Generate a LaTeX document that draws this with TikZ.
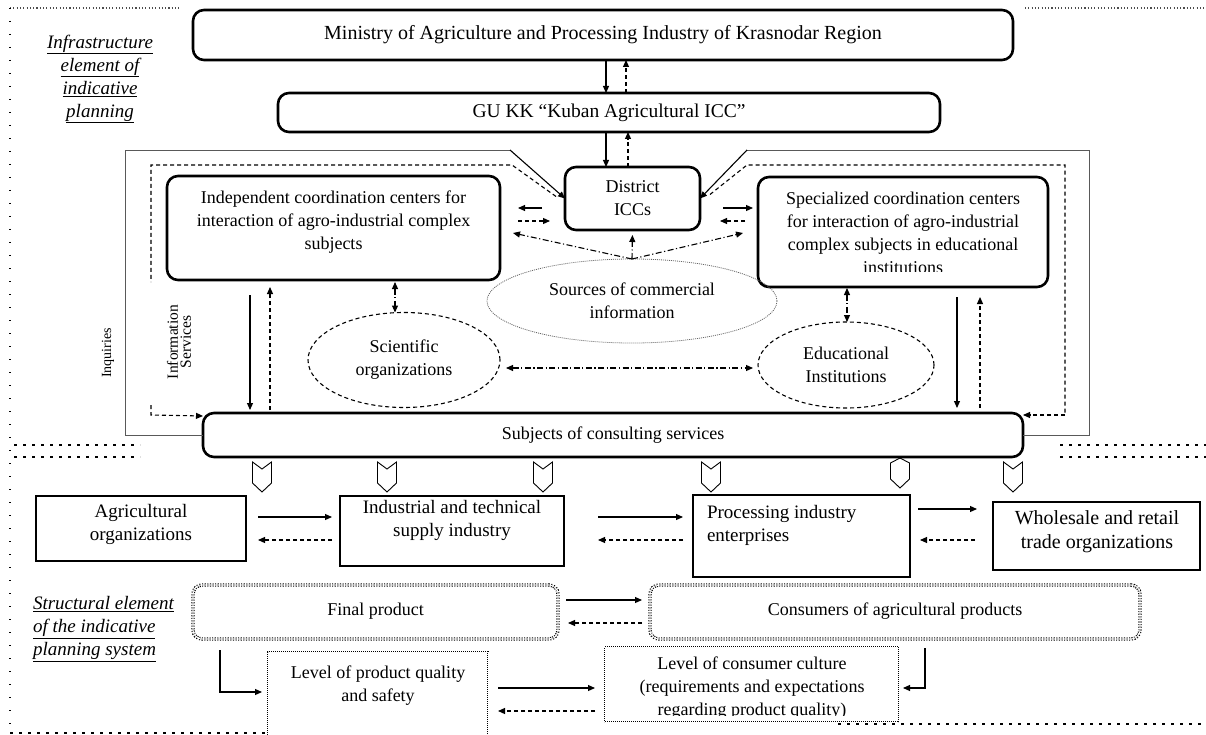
\documentclass[tikz,border=0pt]{standalone}
\usepackage{fontspec}
\setmainfont{Liberation Serif}
\usetikzlibrary{arrows.meta,shapes.geometric,calc}
\newcommand\myfs{\fontsize{18}{23}\selectfont}
\newcommand\myfsb{\fontsize{19}{23}\selectfont}
\begin{document}
\begin{tikzpicture}[x=1pt,y=-1pt,
 every node/.style={inner sep=0pt,outer sep=0pt},
 txt/.style={font=\myfs,align=center},
 txtb/.style={font=\myfsb,align=center},
 bigbox/.style={draw,line width=2.6pt,rounded corners=11pt},
 thinbox/.style={draw,line width=1.1pt},
 dbox/.style={draw,line width=1.1pt,double distance=1.2pt,dash pattern=on 1.1pt off 1.5pt,rounded corners=9pt},
 qbox/.style={draw,line width=0.5pt,double distance=1pt,dash pattern=on 0.9pt off 1.1pt},
 arr/.style={-{Triangle[length=7pt,width=6pt]}},
 arrb/.style={{Triangle[length=7pt,width=6pt]}-{Triangle[length=7pt,width=6pt]}},
 ln/.style={line width=1.1pt},
 dsh/.style={line width=1.1pt,dash pattern=on 4pt off 3pt},
 dd/.style={line width=1.1pt,dash pattern=on 6pt off 2.5pt on 1.2pt off 2.5pt},
 frm/.style={line width=0.9pt,draw=black!65},
 sepd/.style={line width=1.1pt,dash pattern=on 1.1pt off 2.2pt,draw=black!70},
 sepv/.style={line width=1.3pt,dash pattern=on 1.3pt off 11.7pt},
 seph/.style={line width=1.1pt,dash pattern=on 3pt off 6pt},
 lbl/.style={font=\fontsize{19}{23}\selectfont\itshape},
 chev/.pic={\draw[line width=0.9pt] (-9.5,0) -- (0,7) -- (9.5,0) -- (9.5,21) -- (0,30) -- (-9.5,21) -- cycle;},
 chevb/.pic={\draw[line width=0.9pt] (-9.5,5) -- (0,0) -- (9.5,5) -- (9.5,21) -- (0,30) -- (-9.5,21) -- cycle;}
]
\useasboundingbox (0,0) rectangle (1206,735);

% separators
\draw[sepd] (10,8) -- (180,8);
\draw[sepd] (1025,8) -- (1206,8);
\draw[sepv] (10,8) -- (10,735);
\draw[seph] (14,445) -- (140,445);
\draw[seph] (14,457) -- (140,457);
\draw[seph] (1060,445) -- (1206,445);
\draw[seph] (1060,457) -- (1206,457);
\draw[seph] (10,733) -- (268,733);
\draw[seph] (838,724) -- (1206,724);

% labels
\node[lbl,align=center] (infl) at (100,79) {\underline{Infrastructure}\\\underline{element of}\\\underline{indicative}\\\underline{planning}};
\node[lbl,align=left,anchor=west] (strl) at (33,629) {\underline{Structural element}\\\underline{of the indicative}\\\underline{planning system}};

% top boxes
\node[bigbox,minimum width=820,minimum height=50,font=\fontsize{20}{24}\selectfont] (min) at (603,35) {Ministry of Agriculture and Processing Industry of Krasnodar Region};
\node[bigbox,minimum width=662,minimum height=39,font=\fontsize{19.5}{24}\selectfont] (gukk) at (609,112.5) {GU KK “Kuban Agricultural ICC”};
\node[bigbox,minimum width=135,minimum height=63,txt] (dist) at (632.5,198.5) {District\\ICCs};
\node[bigbox,minimum width=333,minimum height=104] (ind) at (333.5,228) {};
\node[txt] (indt) at (333.5,222) {Independent coordination centers for\\interaction of agro-industrial complex\\subjects};
\node[bigbox,minimum width=290,minimum height=110] (spec) at (903,232) {};
\begin{scope}
\clip (spec.north west) rectangle (spec.east |- 0,271);
\node[txt] (spect) at (903,233) {Specialized coordination centers\\for interaction of agro-industrial\\complex subjects in educational\\institutions};
\end{scope}
\node[draw=black!60,line width=0.8pt,dash pattern=on 1pt off 1pt,ellipse,minimum width=290,minimum height=84,txt] (src) at (632,301) {Sources of commercial\\information};
\node[dsh,draw,ellipse,minimum width=192,minimum height=95,txt] (sci) at (404,360) {Scientific\\organizations};
\node[dsh,draw,ellipse,minimum width=176,minimum height=86,txt] (edu) at (846,365) {Educational\\Institutions};
\node[bigbox,minimum width=820,minimum height=44,txt] (cons) at (613,435) {Subjects of consulting services};

\node[rotate=90,font=\fontsize{14}{14}\selectfont] (inq) at (108,353) {Inquiries};
\node[rotate=90,font=\fontsize{15.5}{13}\selectfont,align=center] (infs) at (179,342) {Information\\Services};

% frame
\coordinate (fl) at (510,150);
\coordinate (fr) at (747,150);
\draw[frm] (fl) -- (125,150) -- (125,435) -- (cons.west);
\draw[frm] (fr) -- (1089,150) -- (1089,435) -- (cons.east);
\draw[ln,arr] (fl) -- (dist.west);
\draw[ln,arr] (fr) -- (dist.east);
\draw[dsh] ($(dist.west)+(-9,-2)$) -- (512,165) -- (151,165) -- (151,282);
\draw[dsh,arr] (151,405) -- (151,415) -- (cons.west |- 0,416);
\draw[dsh] ($(dist.east)+(10,-4)$) -- (747,165) -- (1065,165) -- (1065,415);
\draw[dsh,arr] (1065,415) -- (cons.east |- 0,415);

% top connectors
\draw[ln,arr] (min.south -| 606,0) -- (gukk.north -| 606,0);
\draw[dsh,arr] (gukk.north -| 626,0) -- (min.south -| 626,0);
\draw[ln,arr] (gukk.south -| 606,0) -- (dist.north -| 606,0);
\draw[dsh,arr] (dist.north -| 628,0) -- (gukk.south -| 628,0);

\draw[ln,arr,shorten <=23pt,shorten >=18pt] (dist.west |- 0,208) -- (ind.east |- 0,208);
\draw[dsh,arr,shorten <=18pt,shorten >=15pt] (ind.east |- 0,221) -- (dist.west |- 0,221);
\draw[ln,arr,shorten <=23pt,shorten >=5pt] (dist.east |- 0,208) -- (spec.west |- 0,208);
\draw[dsh,arr,shorten <=13pt,shorten >=20pt] (spec.west |- 0,221) -- (dist.east |- 0,221);

\draw[dd,arr,shorten >=5pt] (src.north) -- (dist.south);
\draw[dd,arr] (src.north) -- ($(ind.east)+(13,5)$);
\draw[dd,arr] (src.north) -- ($(spec.west)+(-15,1)$);

\draw[dd,arrb,shorten <=2pt] (ind.south -| 395,0) -- (sci.north -| 395,0);
\draw[dd,arrb,shorten <=1pt] (spec.south -| 847,0) -- (edu.north -| 847,0);
\draw[dd,arrb,shorten <=6pt,shorten >=5pt] (sci.east |- 0,368) -- (edu.west |- 0,368);

\draw[ln,arr,shorten <=15pt,shorten >=3pt] (ind.south -| 250,0) -- (cons.north -| 250,0);
\draw[dsh,arr,shorten <=3pt,shorten >=7pt] (cons.north -| 270,0) -- (ind.south -| 270,0);
\draw[ln,arr,shorten <=10pt,shorten >=5pt] (spec.south -| 957,0) -- (cons.north -| 957,0);
\draw[dsh,arr,shorten <=5pt,shorten >=10pt] (cons.north -| 980,0) -- (spec.south -| 980,0);

% chevrons
\foreach \cx in {262,387,543,711,1013} \pic at (\cx,462) {chev};
\pic at (900,458) {chevb};

% bottom row
\node[thinbox,minimum width=210,minimum height=65] (agri) at (141,528.5) {};
\node[txtb] (agrit) at (141,524) {Agricultural\\organizations};
\node[thinbox,minimum width=224,minimum height=70] (ind2) at (452,531) {};
\node[txtb] (ind2t) at (452,520) {Industrial and technical\\supply industry};
\node[thinbox,minimum width=217,minimum height=82] (proc) at (801.5,536) {};
\node[txtb,align=left,anchor=north west] (proct) at (707,505) {Processing industry\\enterprises};
\node[thinbox,minimum width=207,minimum height=68] (whole) at (1096.5,536) {};
\node[font=\fontsize{20}{24}\selectfont,align=center] (wholet) at (1097,532) {Wholesale and retail\\trade organizations};

\draw[ln,arr,shorten <=12pt,shorten >=8pt] (agri.east |- 0,517) -- (ind2.west |- 0,517);
\draw[dsh,arr,shorten <=8pt,shorten >=12pt] (ind2.west |- 0,540) -- (agri.east |- 0,540);
\draw[ln,arr,shorten <=34pt,shorten >=10pt] (ind2.east |- 0,517) -- (proc.west |- 0,517);
\draw[dsh,arr,shorten <=10pt,shorten >=34pt] (proc.west |- 0,540) -- (ind2.east |- 0,540);
\draw[ln,arr,shorten <=8pt,shorten >=16pt] (proc.east |- 0,509) -- (whole.west |- 0,509);
\draw[dsh,arr,shorten <=18pt,shorten >=10pt] (whole.west |- 0,540) -- (proc.east |- 0,540);

% product row
\node[dbox,minimum width=365,minimum height=54] (final) at (375.5,612) {};
\node[txt] (finalt) at (375.5,611) {Final product};
\node[dbox,minimum width=490,minimum height=54] (consu) at (895,612) {};
\node[txt] (consut) at (895,611) {Consumers of agricultural products};
\draw[ln,arr,shorten <=8pt,shorten >=8pt] (final.east |- 0,600) -- (consu.west |- 0,600);
\draw[dsh,arr,shorten <=8pt,shorten >=10pt] (consu.west |- 0,623) -- (final.east |- 0,623);

\node[qbox,minimum width=220,minimum height=88] (lq) at (378,696) {};
\node[txt] (lqt) at (378,686) {Level of product quality\\and safety};
\node[qbox,minimum width=294,minimum height=75] (cul) at (752,684.5) {};
\begin{scope}
\clip (cul.north west) rectangle (cul.east |- 0,715);
\node[txt] (cult) at (752,688) {Level of consumer culture\\(requirements and expectations\\regarding product quality)};
\end{scope}
\draw[ln,arr,shorten <=10pt,shorten >=10pt] (lq.east |- 0,688) -- (cul.west |- 0,688);
\draw[dsh,arr,shorten <=10pt,shorten >=10pt] (cul.west |- 0,711) -- (lq.east |- 0,711);

\draw[ln,arr,shorten <=11pt,shorten >=6pt] (final.south -| 220,0) |- (lq.west |- 0,692);
\draw[ln,arr,shorten <=9pt,shorten >=4pt] (consu.south -| 925,0) |- (cul.east |- 0,688);
\end{tikzpicture}
\end{document}
